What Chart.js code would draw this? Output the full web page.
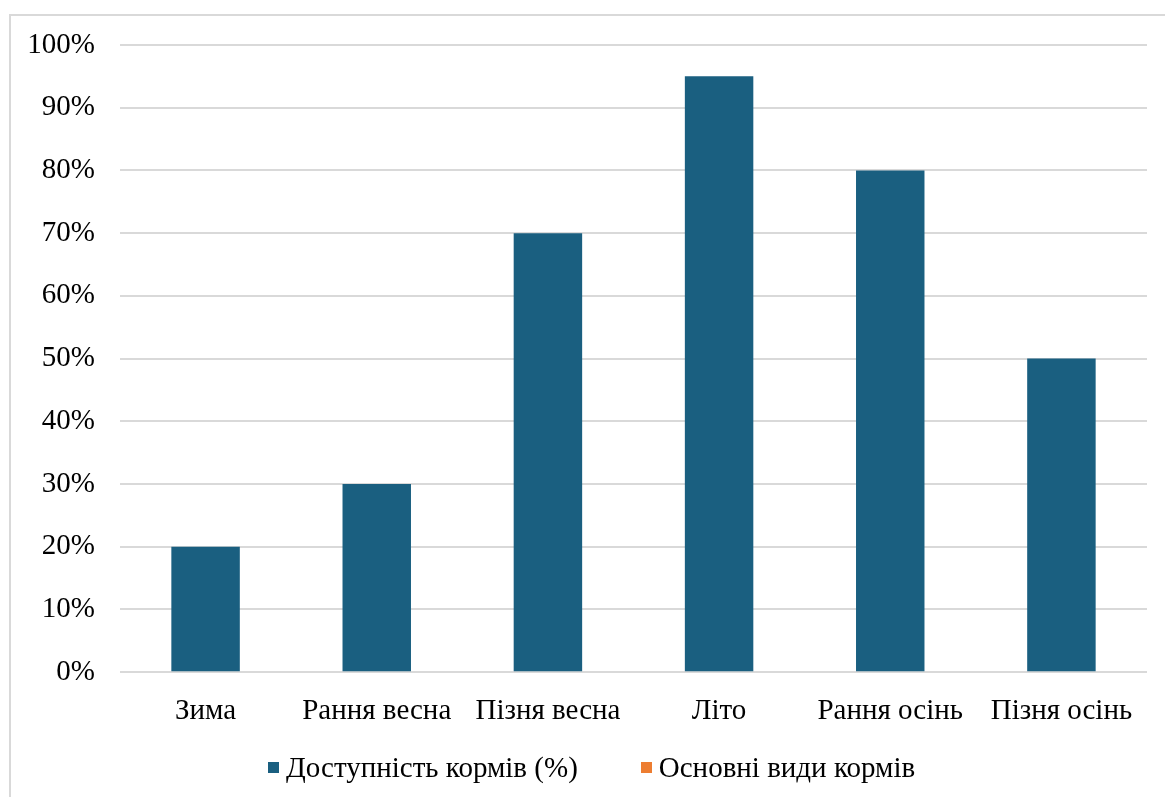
<!DOCTYPE html>
<html>
<head>
<meta charset="utf-8">
<script src="https://cdn.jsdelivr.net/npm/chart.js@4/dist/chart.umd.min.js"></script>
<style>
  html, body { margin: 0; padding: 0; background: #fff; overflow: hidden; }
  #box {
    position: absolute; left: 9px; top: 14px;
    width: 1170px; height: 800px;
    border: 2px solid #d9d9d9; box-sizing: border-box;
  }
  #wrap { position: absolute; left: 0; top: 0; width: 1166px; height: 781px; }
  #legend {
    position: absolute; left: 268px; top: 749px; height: 36px;
    display: flex; align-items: center;
    font-family: 'Liberation Serif', 'Times New Roman', serif; font-size: 29px; color: #000;
  }
  .item { display: flex; align-items: center; margin-right: 63px; white-space: nowrap; }
  .swatch { width: 11px; height: 11px; margin-right: 7px; }
</style>
</head>
<body>
<div id="box"><div id="wrap"><canvas id="feedChart"></canvas></div></div>
<div id="legend"></div>
<script>
// seasons and feed availability (%)
const seasons = ["Зима", "Рання весна", "Пізня весна", "Літо", "Рання осінь", "Пізня осінь"];
const availability = [20, 30, 70, 95, 80, 50];
const feedTypes = [null, null, null, null, null, null]; // text series, nothing plotted
const yTicks = [0, 10, 20, 30, 40, 50, 60, 70, 80, 90, 100];

const serif = "'Liberation Serif', 'Times New Roman', serif";

document.addEventListener("DOMContentLoaded", function () {
  const ctx = document.getElementById("feedChart").getContext("2d");

  window.myChart = new Chart(ctx, {
    type: "bar",
    data: {
      labels: seasons,
      datasets: [
        {
          label: "Доступність кормів (%)",
          data: availability,
          backgroundColor: "#1a5f80",
          grouped: false,
          categoryPercentage: 1,
          barPercentage: 0.4,
        },
        {
          label: "Основні види кормів",
          data: feedTypes,
          backgroundColor: "#ed7d31",
          grouped: false,
          categoryPercentage: 1,
          barPercentage: 0.4,
        },
      ],
    },
    options: {
      responsive: true,
      maintainAspectRatio: false,
      animation: false,
      layout: { padding: { left: 0, right: 30, top: 29, bottom: 54 } },
      scales: {
        x: {
          grid: { display: false },
          border: { display: false },
          ticks: { color: "#000", font: { family: serif, size: 29 }, padding: 14 },
        },
        y: {
          min: 0,
          max: 100,
          afterBuildTicks: (axis) => {
            axis.ticks = yTicks.map((v) => ({ value: v }));
          },
          afterFit: (axis) => {
            axis.width = 109;
            axis.paddingTop = 0;
            axis.paddingBottom = 0;
          },
          grid: { color: "#d9d9d9", lineWidth: 2, drawTicks: false },
          border: { display: false },
          ticks: {
            color: "#000",
            font: { family: serif, size: 29 },
            padding: 25,
            callback: (v) => v + "%",
          },
        },
      },
      plugins: {
        legend: { display: false },
        tooltip: { enabled: false },
      },
    },
  });

  // legend built from the chart's own datasets
  const legend = document.getElementById("legend");
  window.myChart.data.datasets.forEach((ds) => {
    const item = document.createElement("div");
    item.className = "item";
    const sw = document.createElement("span");
    sw.className = "swatch";
    sw.style.background = ds.backgroundColor;
    item.appendChild(sw);
    item.appendChild(document.createTextNode(ds.label));
    legend.appendChild(item);
  });
});
</script>
</body>
</html>
